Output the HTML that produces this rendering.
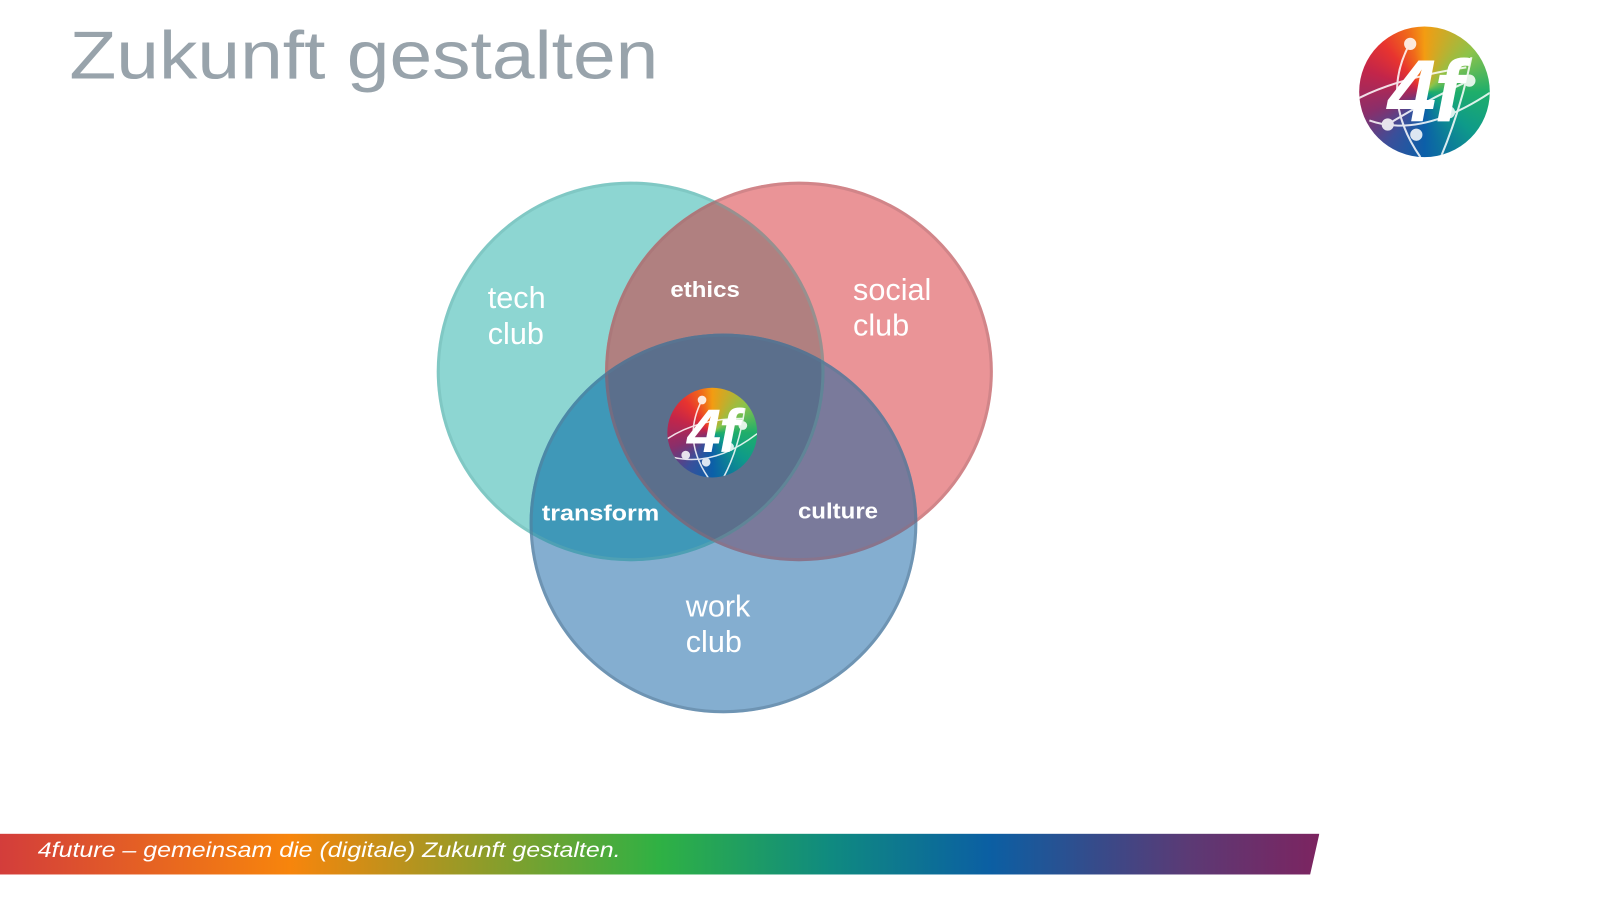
<!DOCTYPE html>
<html><head><meta charset="utf-8"><style>
html,body{margin:0;padding:0;width:1600px;height:900px;overflow:hidden;background:#fff}
#w{position:absolute;left:0;top:0;width:1568px;height:882px;transform:scale(1.0204);transform-origin:0 0;font-family:"Liberation Sans",sans-serif}
.t{position:absolute;white-space:nowrap}
.logo{position:absolute;border-radius:50%;background:conic-gradient(from 0deg,#f39c12 0deg,#8bc34a 50deg,#1fae6a 90deg,#0e9a8a 130deg,#0c5fa8 180deg,#3a4f9a 215deg,#8a2e6a 250deg,#c2254a 290deg,#e8342f 320deg,#f06a1a 345deg,#f39c12 360deg);overflow:hidden}
.logo span{position:absolute;left:0;right:0;text-align:center;color:#fff;font-weight:bold;font-style:italic;letter-spacing:-2px}
</style></head><body><div id="w">
<div class="t" style="left:68px;top:16px;font-size:66px;color:#98a3ab;transform:scaleX(1.14);transform-origin:0 0">Zukunft gestalten</div>

<div class="logo" style="left:1332px;top:26px;width:128px;height:128px"><span style="top:14px;font-size:86px;line-height:100px">4f</span>
<svg width="128" height="128" style="position:absolute;left:0;top:0" fill="none" stroke="#fff" stroke-width="2" opacity="0.85"><path d="M0 70 Q40 50 105 40"/><path d="M10 92 Q60 110 128 65"/><path d="M50 16 Q20 70 60 128"/><path d="M110 30 Q100 80 80 128"/><path d="M28 96 Q70 70 110 52"/><circle cx="50" cy="17" r="5" fill="#fff"/><circle cx="108" cy="53" r="5" fill="#fff"/><circle cx="88" cy="84" r="5" fill="#fff"/><circle cx="56" cy="106" r="5" fill="#fff"/><circle cx="28" cy="96" r="5" fill="#fff"/></svg></div>

<svg width="1568" height="882" style="position:absolute;left:0;top:0">
<defs>
<clipPath id="ct"><ellipse cx="618" cy="364" rx="190" ry="186"/></clipPath>
<clipPath id="cs"><ellipse cx="783" cy="364" rx="190" ry="186"/></clipPath>
</defs>
<ellipse cx="618" cy="364" rx="190" ry="186" fill="#8dd6d2"/>
<ellipse cx="783" cy="364" rx="190" ry="186" fill="#ea9497"/>
<ellipse cx="709" cy="513" rx="190" ry="186" fill="#84aed0"/>
<g clip-path="url(#ct)"><ellipse cx="783" cy="364" rx="190" ry="186" fill="#b08080"/><ellipse cx="709" cy="513" rx="190" ry="186" fill="#3f98b8"/></g>
<g clip-path="url(#cs)"><ellipse cx="709" cy="513" rx="190" ry="186" fill="#7a7a9b"/></g>
<g clip-path="url(#ct)"><g clip-path="url(#cs)"><ellipse cx="709" cy="513" rx="190" ry="186" fill="#5b6f8c"/></g></g>
<g fill="none" stroke-width="3">
<ellipse cx="618" cy="364" rx="188.5" ry="184.5" stroke="#6bb0ad" opacity="0.35"/>
<ellipse cx="783" cy="364" rx="188.5" ry="184.5" stroke="#a36a70" opacity="0.35"/>
<ellipse cx="709" cy="513" rx="188.5" ry="184.5" stroke="#587a96" opacity="0.5"/>
</g>
</svg>

<div class="t" style="left:478px;top:275px;font-size:30px;line-height:35px;color:#fff">tech<br>club</div>
<div class="t" style="left:836px;top:267px;font-size:30px;line-height:35px;color:#fff">social<br>club</div>
<div class="t" style="left:672px;top:577px;font-size:30px;line-height:35px;color:#fff">work<br>club</div>
<div class="t" style="left:657px;top:271px;font-size:22px;font-weight:bold;color:#fff;transform:scaleX(1.07);transform-origin:0 0">ethics</div>
<div class="t" style="left:531px;top:490px;font-size:22px;font-weight:bold;color:#fff;transform:scaleX(1.12);transform-origin:0 0">transform</div>
<div class="t" style="left:782px;top:488px;font-size:22px;font-weight:bold;color:#fff;transform:scaleX(1.07);transform-origin:0 0">culture</div>

<div class="logo" style="left:654px;top:380px;width:88px;height:88px"><span style="top:8px;font-size:60px;line-height:70px">4f</span>
<svg width="88" height="88" style="position:absolute;left:0;top:0" fill="none" stroke="#fff" stroke-width="1.5" opacity="0.85"><path d="M0 50 Q30 30 75 30"/><path d="M5 68 Q45 78 88 45"/><path d="M34 12 Q14 50 40 88"/><path d="M76 20 Q70 60 55 88"/><circle cx="34" cy="12" r="3.5" fill="#fff"/><circle cx="74" cy="37" r="3.5" fill="#fff"/><circle cx="61" cy="58" r="3.5" fill="#fff"/><circle cx="38" cy="73" r="3.5" fill="#fff"/><circle cx="18" cy="66" r="3.5" fill="#fff"/></svg></div>

<div style="position:absolute;left:0;top:817px;width:1293px;height:40px;clip-path:polygon(0 0,100% 0,99.3% 100%,0 100%);background:linear-gradient(90deg,#d33d3b 0%,#f7850c 22%,#2fb144 50%,#0f8a80 63%,#0b5fa3 75%,#5b3a75 90%,#7c2460 100%)"></div>
<div class="t" style="left:37px;top:822px;font-size:21px;font-style:italic;color:#fff;transform:scaleX(1.165);transform-origin:0 0">4future – gemeinsam die (digitale) Zukunft gestalten.</div>
</div></body></html>
